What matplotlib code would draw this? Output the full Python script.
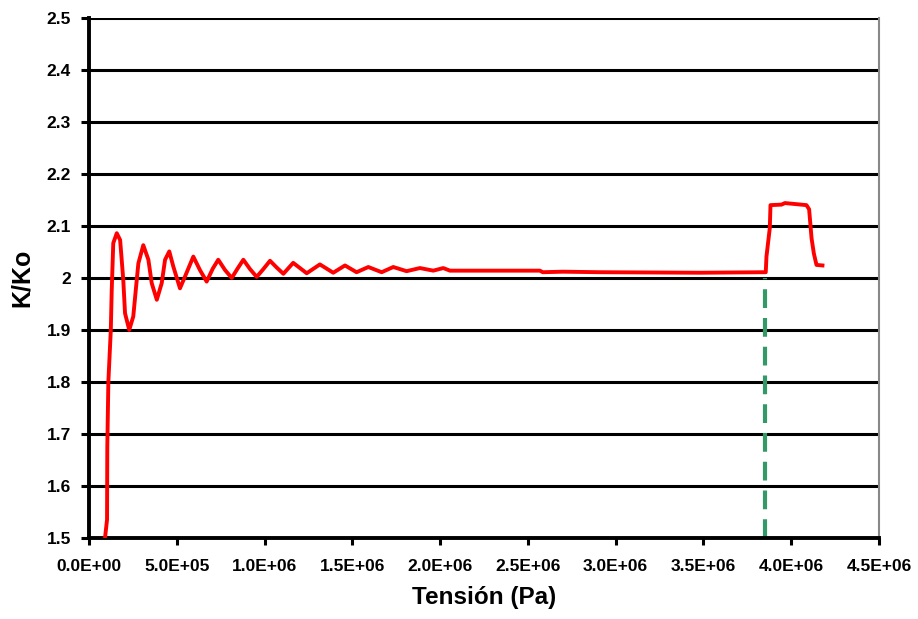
import matplotlib.pyplot as plt
import numpy as np

# Tension (x 1e6 Pa) and K/Ko
tension = [0.091, 0.1025, 0.104, 0.110, 0.124, 0.129, 0.138, 0.158, 0.177, 0.186,
           0.195, 0.205, 0.229, 0.252, 0.268, 0.281, 0.309, 0.338, 0.357, 0.386,
           0.414, 0.433, 0.457, 0.480, 0.518, 0.547, 0.594, 0.632, 0.670, 0.705,
           0.736, 0.775, 0.813, 0.846, 0.879, 0.917, 0.955, 0.993, 1.031, 1.069,
           1.107, 1.163, 1.240, 1.315, 1.391, 1.458, 1.524, 1.591, 1.667, 1.733,
           1.809, 1.885, 1.961, 2.018, 2.056, 2.568, 2.585, 2.699, 2.910, 3.48,
           3.855, 3.859, 3.878, 3.882, 3.945, 3.964, 4.087, 4.102, 4.116, 4.129,
           4.144, 4.178]
k_ko = [1.50, 1.535, 1.675, 1.80, 1.90, 1.974, 2.067, 2.086, 2.073, 2.035,
        1.996, 1.932, 1.900, 1.926, 1.983, 2.028, 2.063, 2.035, 1.990, 1.958,
        1.990, 2.035, 2.051, 2.022, 1.980, 2.003, 2.041, 2.015, 1.993, 2.018,
        2.035, 2.015, 2.000, 2.018, 2.035, 2.017, 2.002, 2.017, 2.033, 2.020,
        2.008, 2.029, 2.009, 2.026, 2.010, 2.024, 2.011, 2.021, 2.011, 2.021,
        2.013, 2.019, 2.014, 2.019, 2.014, 2.014, 2.011, 2.012, 2.011, 2.010,
        2.011, 2.041, 2.096, 2.140, 2.141, 2.144, 2.140, 2.132, 2.076, 2.047,
        2.025, 2.024]

marker_x = 3.85  # green dashed line (x 1e6 Pa)
marker_top = 2.0

x_ticks = np.arange(0, 4.51, 0.5)
x_labels = ['0.0E+00', '5.0E+05', '1.0E+06', '1.5E+06', '2.0E+06',
            '2.5E+06', '3.0E+06', '3.5E+06', '4.0E+06', '4.5E+06']
y_ticks = [1.5, 1.6, 1.7, 1.8, 1.9, 2.0, 2.1, 2.2, 2.3, 2.4, 2.5]
y_labels = ['1.5', '1.6', '1.7', '1.8', '1.9', '2', '2.1', '2.2', '2.3', '2.4', '2.5']

plt.rcParams['font.family'] = ['Liberation Sans', 'DejaVu Sans']

fig = plt.figure(figsize=(9.18, 6.19), dpi=100)
ax = fig.add_axes([0.097, 0.131, 0.8605, 0.84])

ax.set_xlim(0, 4.5)
ax.set_ylim(1.5, 2.5)

for y in y_ticks[1:]:
    ax.axhline(y, color='black', lw=2.2, zorder=1)

ax.plot([marker_x, marker_x], [1.5, marker_top], color='#339966', lw=3,
        linestyle=(0, (4.5, 2.4)), zorder=2)
ax.plot(tension, k_ko, color='#ff0000', lw=2.8, zorder=3)

ax.set_xticks(x_ticks)
ax.set_xticklabels(x_labels, fontsize=12.5, fontweight='bold')
ax.set_yticks(y_ticks)
ax.set_yticklabels(y_labels, fontsize=12.5, fontweight='bold')
ax.tick_params(axis='x', direction='out', length=5, width=2.2, color='black', pad=10)
ax.tick_params(axis='y', direction='out', length=6, width=2.2, color='black', pad=7)

ax.spines['top'].set_visible(False)
ax.spines['left'].set_linewidth(2.8)
ax.spines['bottom'].set_linewidth(2.8)
ax.spines['right'].set_color('#888888')
ax.spines['right'].set_linewidth(1.5)

ax.set_xlabel('Tensión (Pa)', fontsize=17.5, fontweight='bold', labelpad=9)
ax.set_ylabel('K/Ko', fontsize=18, fontweight='bold', labelpad=9)

fig.savefig('out.png', dpi=100)
